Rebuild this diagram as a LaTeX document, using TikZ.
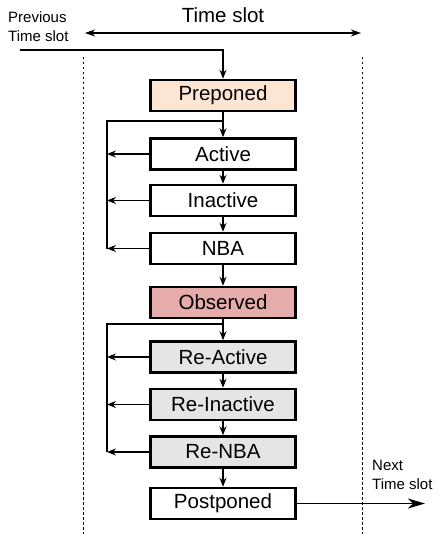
\documentclass[tikz,border=0pt]{standalone}
\usepackage{fontspec}
\setmainfont{Liberation Sans}
\usetikzlibrary{arrows.meta}
\definecolor{peach}{HTML}{FDE5D3}
\definecolor{rose}{HTML}{E6ABAB}
\definecolor{lgray}{HTML}{E5E5E5}
\begin{document}
\begin{tikzpicture}[x=1pt,y=-1pt,
  region/.style={draw, line width=2.5pt, minimum width=145pt, minimum height=31pt, inner sep=0pt, font=\fontsize{20.5}{22}\selectfont},
  flow/.style={line width=1.3pt, -{Stealth[length=9pt,width=7pt,inset=3pt]}},
  sep/.style={line width=0.8pt, dash pattern=on 2.5pt off 2.5pt},
  lbl/.style={font=\fontsize{15}{19}\selectfont, align=left, inner sep=0pt, anchor=north west}]
\useasboundingbox (0,0) rectangle (439,534);
\node[region, fill=peach] (pre) at (223,95.5) {Preponed};
\node[region] (act) at (223,154) {Active};
\node[region] (inact) at (223,200.5) {Inactive};
\node[region] (nba) at (223,248.5) {NBA};
\node[region, fill=rose] (obs) at (223,302.5) {Observed};
\node[region, fill=lgray] (ract) at (223,357) {Re-Active};
\node[region, fill=lgray] (rinact) at (223,404.5) {Re-Inactive};
\node[region, fill=lgray] (rnba) at (223,452) {Re-NBA};
\node[region] (post) at (223,503.5) {Postponed};
% texts
\node[font=\fontsize{20.5}{22}\selectfont, inner sep=0pt] (ts) at (223,15) {Time slot};
\node[lbl] (prev) at (8,11) {Previous\\Time slot};
\node[lbl] (next) at (372,460) {Next\\Time slot};
% dashed lines
\coordinate (dl1) at (83,57); \coordinate (dl2) at (83,534);
\coordinate (dr1) at (362,57); \coordinate (dr2) at (362,534);
\draw[sep] (dl1) -- (dl2);
\draw[sep] (dr1) -- (dr2);
% time slot arrow
\coordinate (tsl) at (85,33); \coordinate (tsr) at (361,33);
\draw[line width=1.3pt, {Stealth[length=10pt,width=7pt,inset=3pt]}-{Stealth[length=10pt,width=7pt,inset=3pt]}] (tsl) -- (tsr);
% previous
\coordinate (pstart) at (20,50);
\draw[flow] (pstart) -| (pre.north);
% chain
\draw[flow] (pre) -- (act);
\draw[flow] (act) -- (inact);
\draw[flow] (inact) -- (nba);
\draw[flow] (nba) -- (obs);
\draw[flow] (obs) -- (ract);
\draw[flow] (ract) -- (rinact);
\draw[flow] (rinact) -- (rnba);
\draw[flow] (rnba) -- (post);
% loop 1
\coordinate (l1a) at (223,121); \coordinate (l1b) at (107,121); \coordinate (l1c) at (107,248.5);
\draw[line width=1.3pt] (l1a) -- (l1b) -- (l1c);
\coordinate (a1) at (107,154); \coordinate (a2) at (107,200.5); \coordinate (a3) at (107,248.5);
\draw[flow] (act.west) -- (a1);
\draw[flow] (inact.west) -- (a2);
\draw[flow] (nba.west) -- (a3);
% loop 2
\coordinate (l2a) at (223,324); \coordinate (l2b) at (107,324); \coordinate (l2c) at (107,452);
\draw[line width=1.3pt] (l2a) -- (l2b) -- (l2c);
\coordinate (b1) at (107,357); \coordinate (b2) at (107,404.5); \coordinate (b3) at (107,452);
\draw[flow] (ract.west) -- (b1);
\draw[flow] (rinact.west) -- (b2);
\draw[flow] (rnba.west) -- (b3);
% next
\coordinate (nend) at (425,503.5);
\draw[line width=1.3pt, -{Stealth[length=17pt,width=10pt,inset=5pt]}] (post.east) -- (nend);
\end{tikzpicture}
\end{document}
